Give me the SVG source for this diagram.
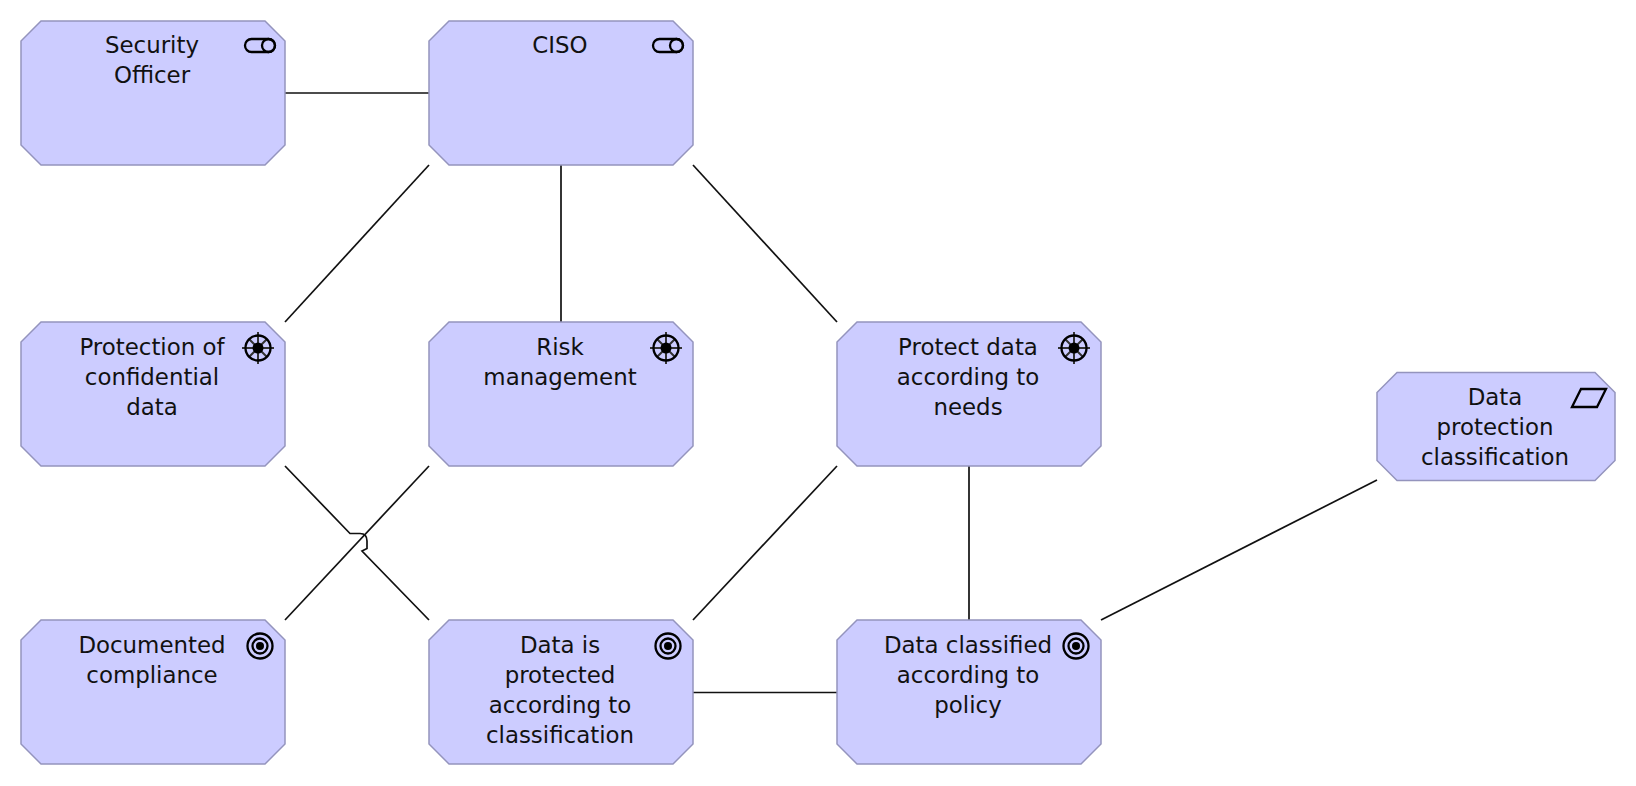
<svg xmlns="http://www.w3.org/2000/svg" width="1636" height="786" viewBox="0 0 1636 786">
<style>
.box{fill:#ccccff;stroke:#9494bd;stroke-width:1.5}
.conn{fill:none;stroke:#111;stroke-width:1.7}
.ico{fill:none;stroke:#000;stroke-width:2.300}
.spk{fill:none;stroke:#333;stroke-width:2}
.lbl{font-family:"DejaVu Sans","Liberation Sans",sans-serif;font-size:22.9px;fill:#111;text-anchor:middle}
</style>
<defs>
<path id="b" class="box" d="M20 0H244L264 20V124L244 144H20L0 124V20Z"/>
<path id="b2" class="box" d="M20 0H218L238 20V88L218 108H20L0 88V20Z"/>
<g id="role" class="ico"><path d="M251.500 39H268.500A6.500 6.500 0 0 1 268.500 52H251.500A6.500 6.500 0 0 1 251.500 39Z"/><circle cx="268.500" cy="45.500" r="6.500"/></g>
<g id="driver"><path class="spk" d="M-16 0H16M0-16V16M-9-9L9 9M-9 9L9-9"/><circle class="ico" r="12.500"/><circle r="5.500" fill="#000"/></g>
<g id="goal"><circle class="ico" r="12.500"/><circle class="ico" r="7.500"/><circle r="4" fill="#000"/></g>
</defs>
<g id="connectors">
<path class="conn" d="M285 466L350 533.500H360Q367 533.500 367 541V548.500L362 551L429 620"/>
<path class="conn" d="M285 93H429"/>
<path class="conn" d="M561 165V322"/>
<path class="conn" d="M429 165L285 322"/>
<path class="conn" d="M693 165L837 322"/>
<path class="conn" d="M429 466L285 620"/>
<path class="conn" d="M837 466L693 620"/>
<path class="conn" d="M969 466V620"/>
<path class="conn" d="M693 692.500H837"/>
<path class="conn" d="M1101 620L1377 480"/>
</g>
<g id="security-officer"><use href="#b" x="21" y="21"/><use href="#role"/><text class="lbl" x="152" y="53">Security</text><text class="lbl" x="152" y="83">Officer</text></g>
<g id="ciso"><use href="#b" x="429" y="21"/><use href="#role" x="408"/><text class="lbl" x="560" y="53">CISO</text></g>
<g id="protection-of-confidential-data"><use href="#b" x="21" y="322"/><use href="#driver" x="258" y="348"/><text class="lbl" x="152" y="355">Protection of</text><text class="lbl" x="152" y="385">confidential</text><text class="lbl" x="152" y="415">data</text></g>
<g id="risk-management"><use href="#b" x="429" y="322"/><use href="#driver" x="666" y="348"/><text class="lbl" x="560" y="355">Risk</text><text class="lbl" x="560" y="385">management</text></g>
<g id="protect-data"><use href="#b" x="837" y="322"/><use href="#driver" x="1074" y="348"/><text class="lbl" x="968" y="355">Protect data</text><text class="lbl" x="968" y="385">according to</text><text class="lbl" x="968" y="415">needs</text></g>
<g id="data-protection-classification"><use href="#b2" x="1377" y="372.500"/><path class="ico" d="M1572 407L1581 389H1606L1597 407Z"/><text class="lbl" x="1495" y="405">Data</text><text class="lbl" x="1495" y="435">protection</text><text class="lbl" x="1495" y="465">classification</text></g>
<g id="documented-compliance"><use href="#b" x="21" y="620"/><use href="#goal" x="260" y="646"/><text class="lbl" x="152" y="653">Documented</text><text class="lbl" x="152" y="683">compliance</text></g>
<g id="data-is-protected"><use href="#b" x="429" y="620"/><use href="#goal" x="668" y="646"/><text class="lbl" x="560" y="653">Data is</text><text class="lbl" x="560" y="683">protected</text><text class="lbl" x="560" y="713">according to</text><text class="lbl" x="560" y="743">classification</text></g>
<g id="data-classified"><use href="#b" x="837" y="620"/><use href="#goal" x="1076" y="646"/><text class="lbl" x="968" y="653">Data classified</text><text class="lbl" x="968" y="683">according to</text><text class="lbl" x="968" y="713">policy</text></g>
</svg>
